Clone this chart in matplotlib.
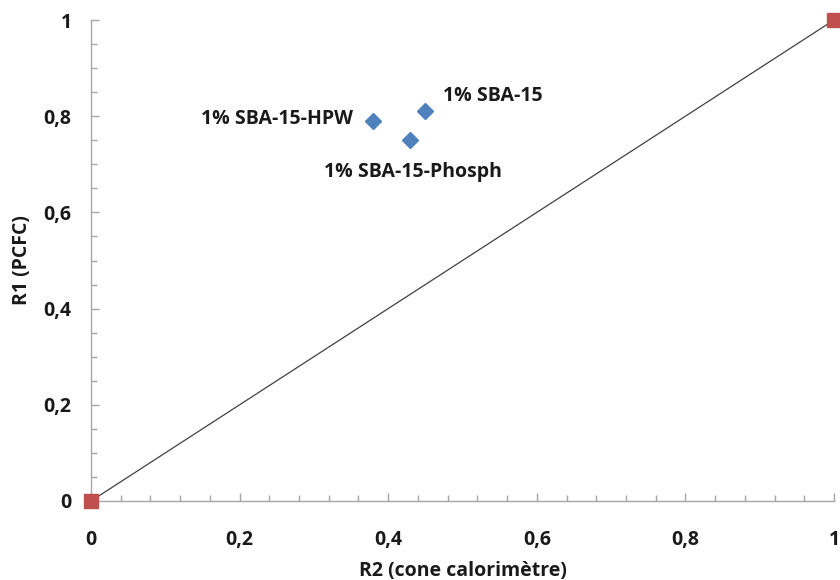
import numpy as np
import matplotlib.pyplot as plt
from matplotlib.ticker import MultipleLocator, FixedLocator, FixedFormatter

plt.rcParams['font.family'] = ['Open Sans', 'DejaVu Sans']

# samples (blue diamonds)
names = ["1% SBA-15", "1% SBA-15-HPW", "1% SBA-15-Phosph"]
r2 = [0.45, 0.38, 0.43]
r1 = [0.81, 0.79, 0.75]

# reference line (red squares)
ref_x = [0, 1]
ref_y = [0, 1]

ticks = [0, 0.2, 0.4, 0.6, 0.8, 1]
tick_labels = ["0", "0,2", "0,4", "0,6", "0,8", "1"]

fig = plt.figure(figsize=(8.4, 5.8), dpi=100)
ax = fig.add_axes([91/840, 79/580, 743/840, 481/580])

ax.plot(ref_x, ref_y, color='#404040', lw=0.9, zorder=2, clip_on=False)
ax.plot(ref_x, ref_y, ls='none', marker='s', ms=10, color='#C0504D', zorder=3, clip_on=False)
ax.plot(r2, r1, ls='none', marker='D', ms=8, color='#4F81BD', zorder=3, clip_on=False)

offsets = [(13, 11), (-15, 1.5), (2, -23)]
aligns = [('left', 'center'), ('right', 'center'), ('center', 'center')]
for n, x, y, off, (ha, va) in zip(names, r2, r1, offsets, aligns):
    ax.annotate(n, (x, y), xytext=off, textcoords='offset points', ha=ha, va=va,
                fontsize=14, fontweight='bold', color='#1a1a1a')

ax.set_xlim(0, 1)
ax.set_ylim(0, 1)
for a in (ax.xaxis, ax.yaxis):
    a.set_major_locator(FixedLocator(ticks))
    a.set_major_formatter(FixedFormatter(tick_labels))
ax.xaxis.set_minor_locator(MultipleLocator(0.04))
ax.yaxis.set_minor_locator(MultipleLocator(0.05))

ax.spines['top'].set_visible(False)
ax.spines['right'].set_visible(False)
for s in ('left', 'bottom'):
    ax.spines[s].set_color('#A6A6A6')
    ax.spines[s].set_linewidth(1.0)

ax.tick_params(which='both', direction='in', color='#A6A6A6', width=1.0)
ax.tick_params(which='major', length=6)
ax.tick_params(which='minor', length=4.5)
ax.tick_params(axis='y', which='major', pad=14, labelsize=14)
ax.tick_params(axis='x', which='major', pad=21, labelsize=14)
for lbl in ax.get_xticklabels() + ax.get_yticklabels():
    lbl.set_fontweight('bold')
    lbl.set_color('#1a1a1a')

ax.set_xlabel("R2 (cone calorimètre)", fontsize=14, fontweight='bold', color='#1a1a1a', labelpad=8)
ax.set_ylabel("R1 (PCFC)", fontsize=14, fontweight='bold', color='#1a1a1a', labelpad=8)

fig.savefig("out.png", dpi=100)
